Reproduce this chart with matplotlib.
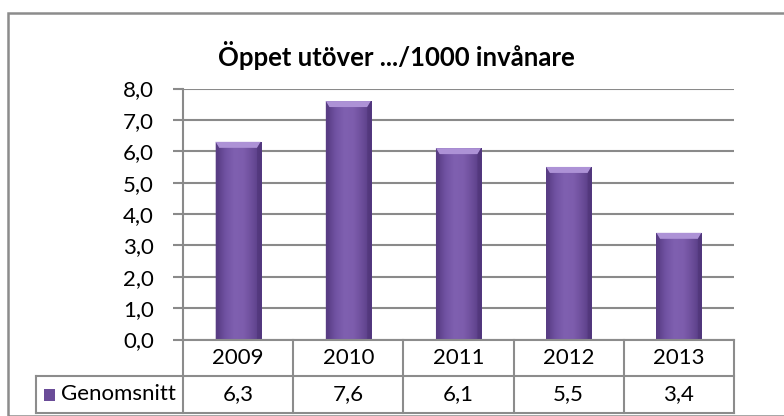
import matplotlib
matplotlib.use("Agg")
import matplotlib.pyplot as plt
import matplotlib.transforms as mtransforms
from matplotlib.colors import LinearSegmentedColormap
from matplotlib.patches import Rectangle, Polygon
import numpy as np

# data
years = ["2009", "2010", "2011", "2012", "2013"]
values = [6.3, 7.6, 6.1, 5.5, 3.4]
series_name = "Genomsnitt"
title = "Öppet utöver .../1000 invånare"

plt.rcParams['font.family'] = ['Lato', 'DejaVu Sans']

W, H = 784, 416
fig = plt.figure(figsize=(W / 100, H / 100), dpi=100)

# outer frame (right/bottom edges fall outside the image)
fig.add_artist(Rectangle((8 / W, 0), 2, 1 - 13 / H, transform=fig.transFigure,
                         fill=False, edgecolor="#8c8c8c", linewidth=1.8))

ax_l, ax_r, ax_t, ax_b = 183, 734, 88.5, 339.5
ax = fig.add_axes([ax_l / W, 1 - ax_b / H, (ax_r - ax_l) / W, (ax_b - ax_t) / H])

grid_c = "#8a8a8a"
fs = 16
x = np.arange(len(years))
bar_w = 0.41
bars = ax.bar(x, values, width=bar_w, color="#7a5aa8", zorder=3, linewidth=0)

# horizontal gradient inside each bar
cmap = LinearSegmentedColormap.from_list(
    "purp", ["#563a80", "#7052a2", "#7f60b0", "#7d5dad", "#6b4d99", "#533880"])
grad = np.linspace(0, 1, 64).reshape(1, -1)
ppu = (ax_b - ax_t) / 8.0  # pixels per unit
for b, v in zip(bars, values):
    x0 = b.get_x()
    im = ax.imshow(grad, cmap=cmap, aspect="auto", extent=(x0, x0 + bar_w, 0, v),
                   zorder=3.5, interpolation="bicubic")
    im.set_clip_path(b)
    # top bevel
    bh = 6 / ppu
    bx = 0.08 * bar_w
    ax.add_patch(Polygon([(x0, v), (x0 + bar_w, v), (x0 + bar_w - bx, v - bh), (x0 + bx, v - bh)],
                         closed=True, facecolor="#ad92d6", edgecolor="none", zorder=4))
    ax.add_patch(Polygon([(x0, v), (x0 + bx, v - bh), (x0 + bx, 0), (x0, 0)],
                         closed=True, facecolor="#5a3e86", edgecolor="none", zorder=4, alpha=0.6))
    ax.add_patch(Polygon([(x0 + bar_w, v), (x0 + bar_w - bx, v - bh), (x0 + bar_w - bx, 0), (x0 + bar_w, 0)],
                         closed=True, facecolor="#4e3476", edgecolor="none", zorder=4, alpha=0.6))

ax.set_xlim(-0.5, len(years) - 0.5)
ax.set_ylim(0, 8)
ax.set_yticks(np.arange(0, 9, 1))
ax.set_yticklabels([f"{t:.1f}".replace(".", ",") for t in np.arange(0, 9, 1)])
ax.set_xticks([])
ax.grid(axis="y", color=grid_c, linewidth=1.5, zorder=1)
ax.set_axisbelow(True)
for s in ["top", "right", "bottom"]:
    ax.spines[s].set_visible(False)
ax.spines["left"].set_color(grid_c)
ax.spines["left"].set_linewidth(1.5)
ax.tick_params(axis="y", length=7, width=1.5, color=grid_c, pad=14, labelsize=fs)

fig.text(396 / W, 1 - 55 / H, title, ha="center", va="center",
         fontsize=18.5, fontweight="bold")

# data table below the axis
tr = mtransforms.blended_transform_factory(ax.transData, ax.transAxes)
r1 = -(376 - ax_b) / (ax_b - ax_t)
r2 = -(413 - ax_b) / (ax_b - ax_t)
leg_left = -0.5 - (ax_l - 36) / ((ax_r - ax_l) / len(years))
tc = "#8c8c8c"
lw = 1.5
n = len(years)
ax.plot([-0.5, n - 0.5], [0, 0], transform=tr, color=tc, lw=lw, clip_on=False, zorder=5)
ax.plot([leg_left, n - 0.5], [r1, r1], transform=tr, color=tc, lw=lw, clip_on=False)
ax.plot([leg_left, n - 0.5], [r2, r2], transform=tr, color=tc, lw=lw, clip_on=False)
ax.plot([leg_left, leg_left], [r1, r2], transform=tr, color=tc, lw=lw, clip_on=False)
for i in range(n + 1):
    ax.plot([i - 0.5, i - 0.5], [0, r2], transform=tr, color=tc, lw=lw, clip_on=False)
for i, (yr, v) in enumerate(zip(years, values)):
    ax.text(i, r1 / 2, yr, transform=tr, ha="center", va="center", fontsize=fs)
    ax.text(i, (r1 + r2) / 2, f"{v:.1f}".replace(".", ","), transform=tr,
            ha="center", va="center", fontsize=fs)

# legend key + series name
fig.add_artist(Rectangle((44 / W, 1 - 401 / H), 11 / W, 12 / H, transform=fig.transFigure,
                         facecolor="#6a4c98", edgecolor="none"))
fig.text(61 / W, 1 - 394.5 / H, series_name, ha="left", va="center", fontsize=fs)

fig.savefig("out.png", dpi=100)
